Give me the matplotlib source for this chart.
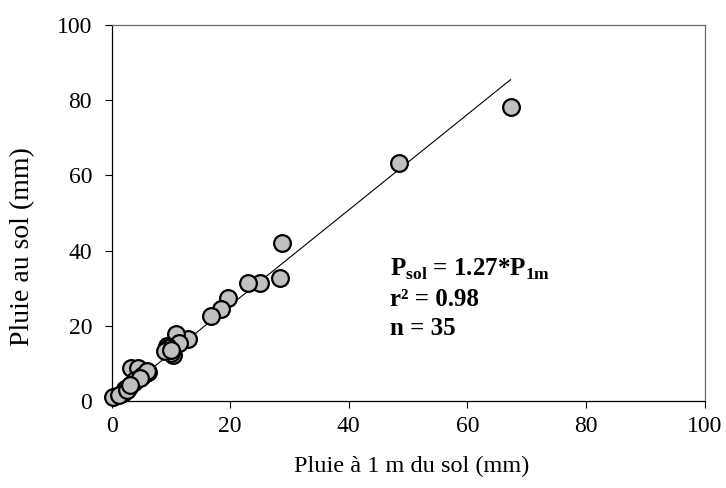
import matplotlib
matplotlib.use("Agg")
import matplotlib.pyplot as plt

# rain 1 m above ground vs rain at ground level (mm)
pluie_1m = [67.3, 48.4, 28.7, 28.4, 25.0, 23.0, 19.7, 18.5, 16.8, 12.9,
            10.9, 11.3, 9.4, 9.6, 10.3, 10.1, 9.1, 6.2, 5.8, 3.3,
            4.5, 5.0, 3.8, 2.9, 2.3, 1.9, 0.2, 4.0, 5.3, 1.2,
            2.6, 6.0, 10.0, 4.8, 3.1]
pluie_sol = [78.2, 63.3, 42.0, 32.8, 31.5, 31.5, 27.4, 24.5, 22.7, 16.6,
             17.9, 15.5, 14.5, 14.0, 12.3, 12.8, 13.3, 7.8, 7.5, 8.9,
             8.7, 6.3, 5.0, 3.7, 3.2, 2.0, 1.0, 5.5, 7.0, 1.5,
             2.8, 8.0, 13.5, 6.0, 4.2]
pente = 1.27
x_fit = [0, 67.3]
ticks = [0, 20, 40, 60, 80, 100]

plt.rcParams['font.family'] = ['Liberation Serif', 'DejaVu Serif']
plt.rcParams['mathtext.fontset'] = 'custom'
plt.rcParams['mathtext.rm'] = 'Liberation Serif'
plt.rcParams['mathtext.bf'] = 'Liberation Serif:bold'

fig = plt.figure(figsize=(7.26, 4.88), dpi=100)
ax = fig.add_axes([0.1536, 0.1783, 0.8168, 0.7705])

ax.plot(x_fit, [pente * v for v in x_fit], color='black', lw=0.8, zorder=2)
ax.scatter(pluie_1m, pluie_sol, s=145, facecolor='#c0c0c0', edgecolor='black',
           linewidths=1.6, zorder=3, clip_on=False)

ax.set_xlim(0, 100)
ax.set_ylim(0, 100)
ax.set_xticks(ticks)
ax.set_yticks(ticks)
ax.tick_params(direction='out', length=5, width=0.8, labelsize=17)
ax.tick_params(axis='x', pad=6)
ax.tick_params(axis='y', pad=9)
for s in ['left', 'bottom']:
    ax.spines[s].set_color('black')
    ax.spines[s].set_linewidth(0.9)
for s in ['top', 'right']:
    ax.spines[s].set_color('#6a6a6a')
    ax.spines[s].set_linewidth(0.9)

ax.set_xlabel("Pluie à 1 m du sol (mm)", fontsize=17.5)
ax.xaxis.set_label_coords(0.507, -0.145)
ax.set_ylabel("Pluie au sol (mm)", fontsize=20)
ax.yaxis.set_label_coords(-0.128, 0.41)

txt = dict(transform=ax.transAxes, fontsize=18, fontweight='bold', va='center', ha='left')
ax.text(0.469, 0.350, r"P$_{\mathbf{sol}}$ = 1.27*P$_{\mathbf{1m}}$", **txt)
ax.text(0.469, 0.270, r"r² = 0.98", **txt)
ax.text(0.469, 0.192, "n = 35", **txt)

fig.savefig("out.png", dpi=100)
